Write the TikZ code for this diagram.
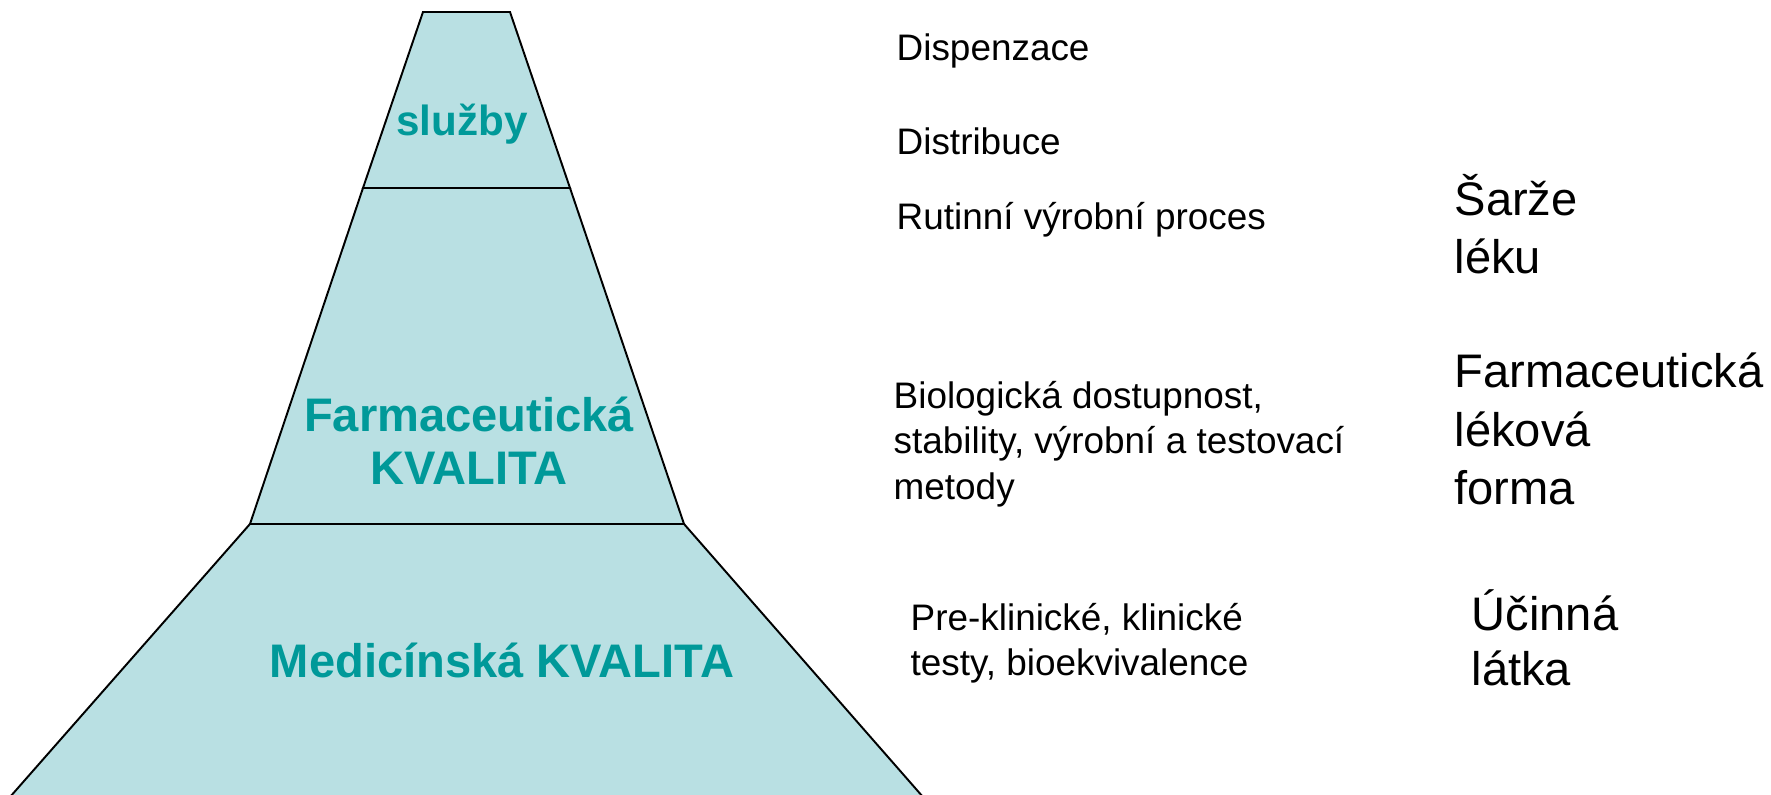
\documentclass[tikz,border=0pt]{standalone}
\usepackage{fontspec}
\setmainfont{Liberation Sans}
\definecolor{layerfill}{RGB}{185,224,227}
\definecolor{layertext}{RGB}{0,153,153}

\begin{document}
\begin{tikzpicture}[
        layer/.style={fill=layerfill, draw=black, line width=0.55pt, line join=miter},
        title/.style={font=\bfseries\fontsize{13.4}{15.1}\selectfont, text=layertext, align=center, inner sep=0pt},
        stage/.style={font=\fontsize{10.5}{12.9}\selectfont, align=left, anchor=west, inner sep=0pt},
        product/.style={font=\fontsize{13.4}{16.6}\selectfont, align=left, anchor=west, inner sep=0pt}
    ]
        \clip (0,0) rectangle (17.71,7.95);
        \filldraw[layer] (4.23,7.83) -- (5.10,7.83) -- (5.70,6.07) -- (3.63,6.07) -- cycle;
        \filldraw[layer] (3.63,6.07) -- (5.70,6.07) -- (6.84,2.71) -- (2.50,2.71) -- cycle;
        \filldraw[layer] (2.50,2.71) -- (6.84,2.71) -- (9.30,-0.1) -- (0.03,-0.1) -- cycle;
        \node[title, font=\bfseries\fontsize{12}{14}\selectfont] (sluzby) at (4.62,6.71) {služby};
        \node[title] (farmkval) at (4.69,3.54) {Farmaceutická\\KVALITA};
        \node[title] (medkval) at (5.02,1.35) {Medicínská KVALITA};
        \foreach \y/\name/\txt in {7.44/disp/Dispenzace, 6.54/distr/Distribuce, 5.75/rutin/Rutinní výrobní proces} {
                \node[stage] (\name) at (8.96,\y) {\txt};
            }
        \node[stage] (biol) at (8.93,3.51) {Biologická dostupnost,\\stability, výrobní a testovací\\metody};
        \node[stage] (preklin) at (9.10,1.52) {Pre-klinické, klinické\\testy, bioekvivalence};
        \node[product] (sarze) at (14.54,5.71) {Šarže\\léku};
        \node[product] (forma) at (14.54,3.66) {Farmaceutická\\léková\\forma};
        \node[product, font=\fontsize{13.4}{15.6}\selectfont] (latka) at (14.71,1.57) {Účinná\\látka};
    \end{tikzpicture}
\end{document}
